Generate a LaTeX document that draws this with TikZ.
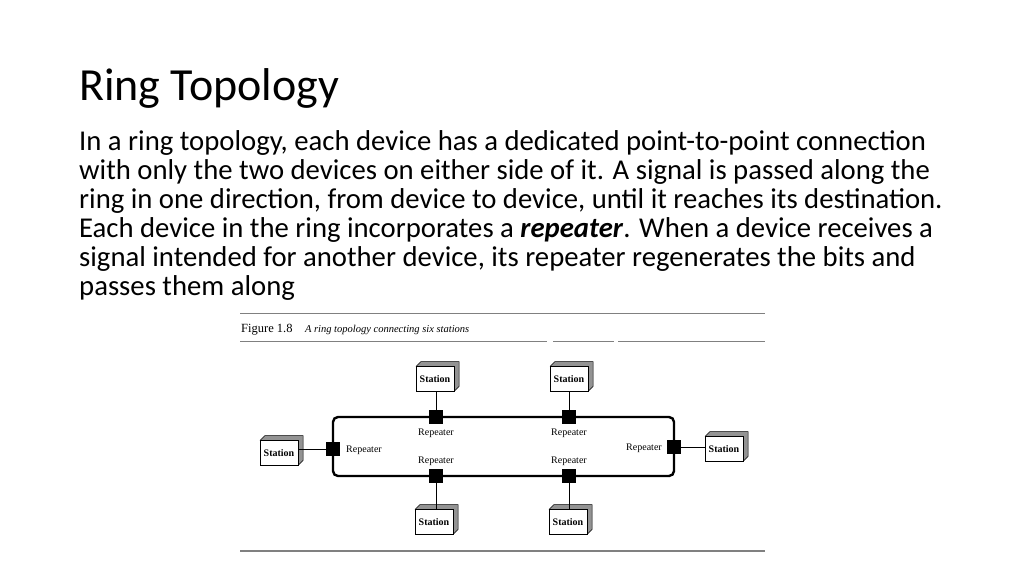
\documentclass[tikz,border=0pt]{standalone}
\usepackage{fontspec}
\setmainfont{Carlito}
\newfontfamily\tms{Liberation Serif}
\begin{document}
\begin{tikzpicture}[x=1pt,y=-1pt,
  rep/.style={fill=black,minimum size=14pt,inner sep=0pt},
  stbox/.style={draw,fill=white,minimum width=38pt,minimum height=25pt,inner sep=0pt,font=\tms\bfseries\fontsize{10}{11}\selectfont},
  lab/.style={font=\tms\fontsize{10}{11}\selectfont},
  ring/.style={line width=2.4pt,rounded corners=5pt},
  link/.style={line width=0.7pt}]
\useasboundingbox (0,0) rectangle (1024,576);
\node[anchor=base west,inner sep=0pt,font=\fontsize{46}{50}\selectfont] (title) at (79,100) {Ring Topology};
\node[anchor=north west,inner sep=0pt,align=left,font=\fontsize{28.7}{29}\selectfont] (para) at (79,130) {In a ring topology, each device has a dedicated point-to-point connection\\with only the two devices on either side of it. A signal is passed along the\\ring in one direction, from device to device, until it reaches its destination.\\Each device in the ring incorporates a \textbf{\textit{repeater}}. When a device receives a\\signal intended for another device, its repeater regenerates the bits and\\passes them along};
% figure frame
\draw[gray,line width=1pt] (240,313) -- (765,313);
\node[anchor=base west,inner sep=0pt,font=\tms\fontsize{12.5}{13}\selectfont] (cap) at (241,332) {Figure 1.8\quad\textit{\fontsize{10.5}{11}\selectfont A ring topology connecting six stations}};
\draw[gray,line width=0.7pt] (240,341) -- (547,341) (553,341) -- (614,341) (618,341) -- (765,341);
\draw[gray,line width=1.2pt] (240,551) -- (765,551);
% ring
\draw[ring] (333,417) rectangle (674,476);
\node[rep] (rl) at (333,449) {};
\node[rep] (rr) at (674,447) {};
\node[rep] (t1) at (436,417) {};
\node[rep] (t2) at (569,417) {};
\node[rep] (b1) at (436,476) {};
\node[rep] (b2) at (569,476) {};
% stations with 3D look
\foreach \n/\x/\y in {s1/435/379,s2/569/379,s3/434/522,s4/568/522,s5/279/453,s6/724/449}{
  \fill[gray!85] (\x-19,\y-12.5) -- (\x-14,\y-17.5) -- (\x+24,\y-17.5) -- (\x+24,\y+7.5) -- (\x+19,\y+12.5) -- cycle;
  \draw[line width=0.5pt] (\x-19,\y-12.5) -- (\x-14,\y-17.5) -- (\x+24,\y-17.5) -- (\x+24,\y+7.5) -- (\x+19,\y+12.5);
  \node[stbox] (\n) at (\x,\y) {Station};
}
\draw[link] (t1 |- s1.south) -- (t1); \draw[link] (t2 |- s2.south) -- (t2);
\draw[link] (b1 |- s3.north) -- (b1); \draw[link] (b2 |- s4.north) -- (b2);
\draw[link] (s5.east |- rl) -- (rl); \draw[link] (s6.west |- rr) -- (rr);
\node[lab] (l1) at (436,433) {Repeater};
\node[lab] (l2) at (569,433) {Repeater};
\node[lab] (l3) at (436,461) {Repeater};
\node[lab] (l4) at (569,461) {Repeater};
\node[lab] (l5) at (364,450) {Repeater};
\node[lab] (l6) at (644,448) {Repeater};
\end{tikzpicture}
\end{document}
